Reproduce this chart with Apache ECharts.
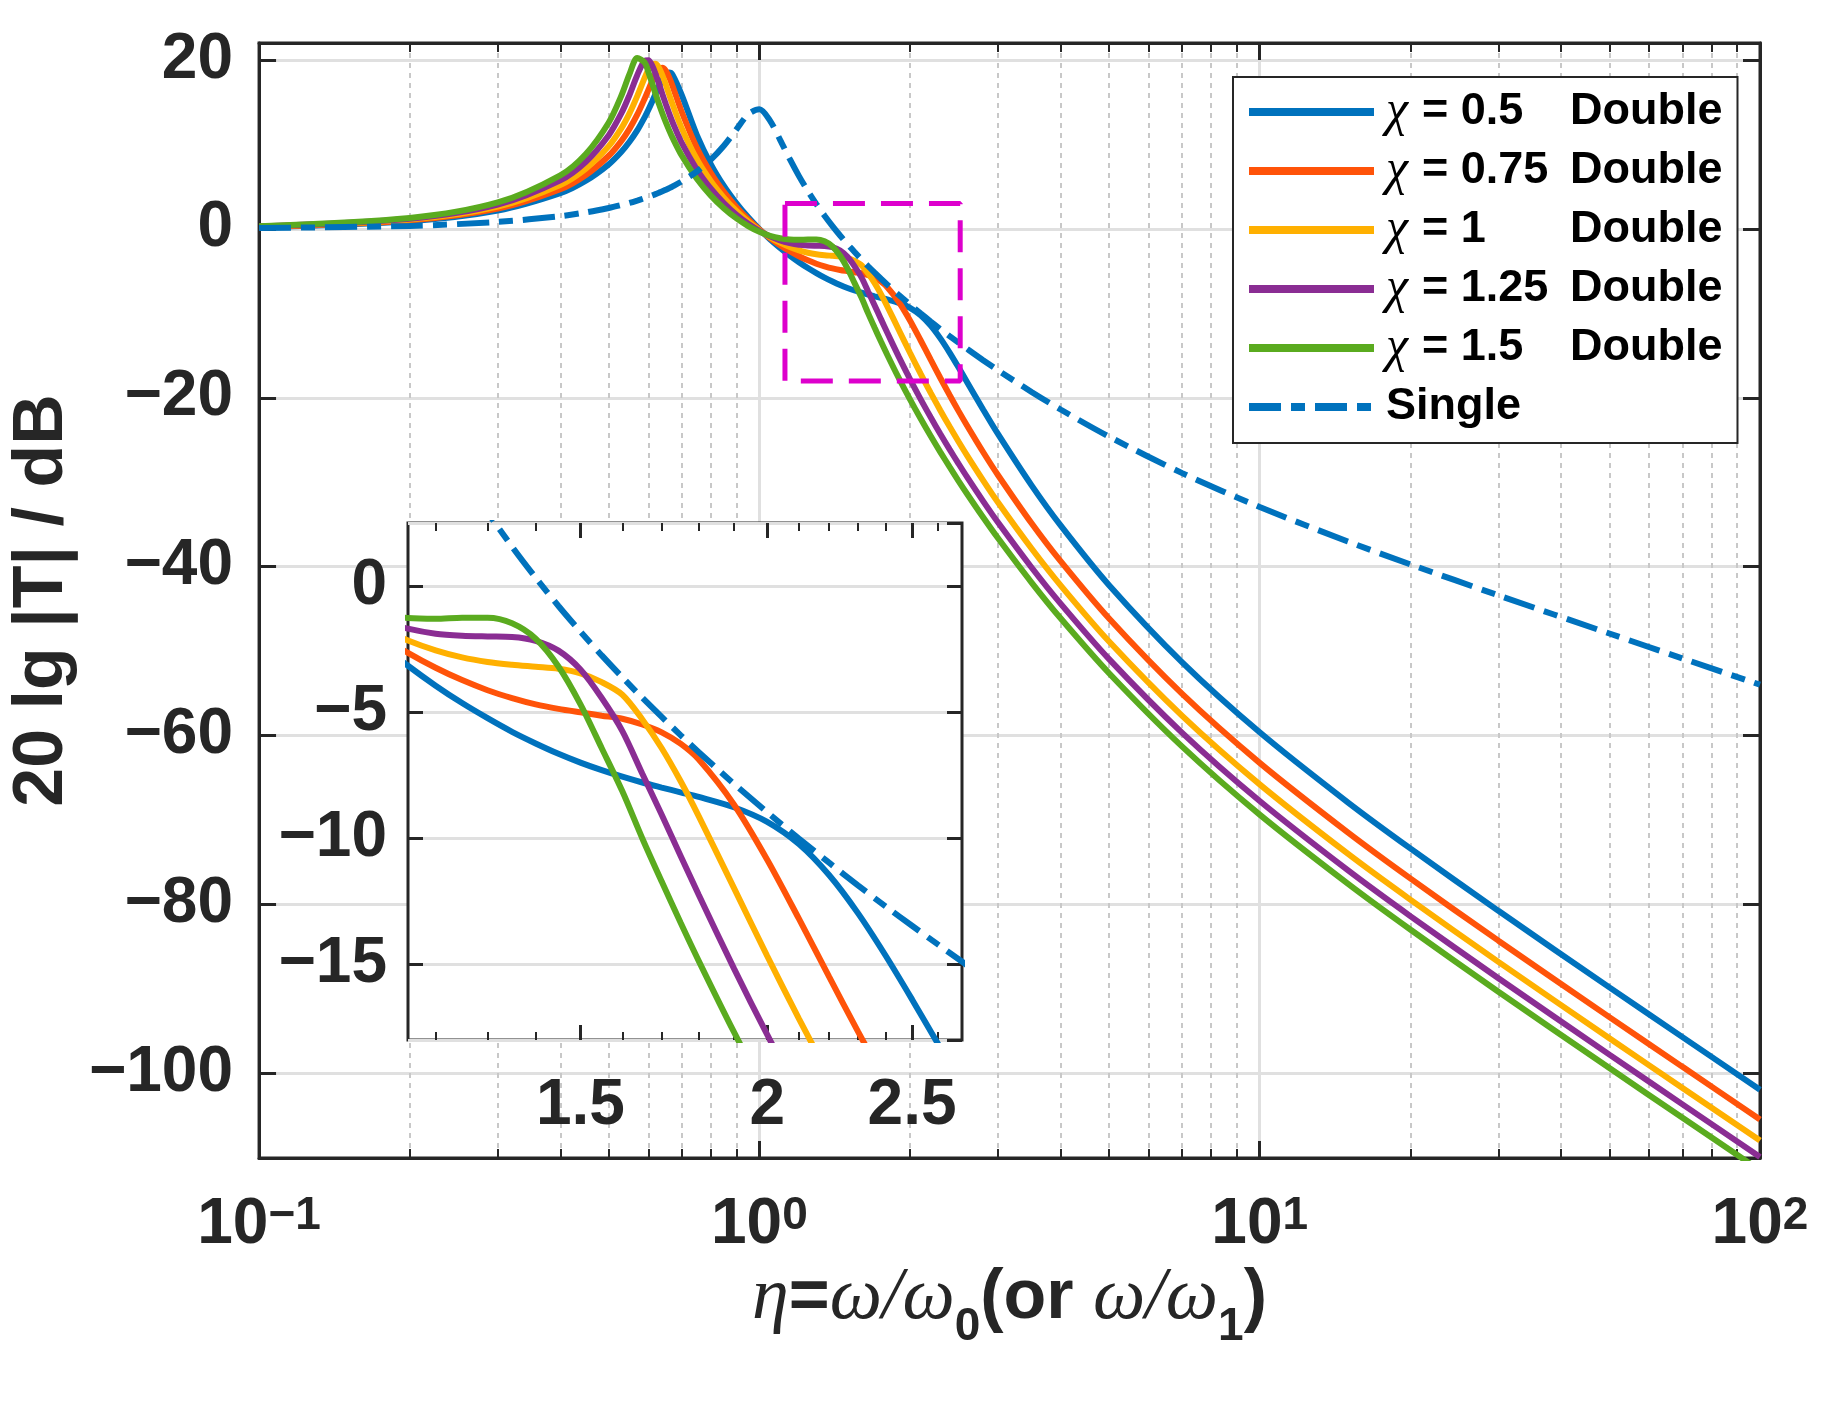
<!DOCTYPE html>
<html>
<head>
<meta charset="utf-8">
<title>20 lg |T| vs eta</title>
<script src="https://cdn.jsdelivr.net/npm/echarts@6/dist/echarts.min.js"></script>
<style>
  html, body { margin: 0; padding: 0; background: #fff; }
  #chart { width: 1846px; height: 1414px; }
</style>
</head>
<body>
<div id="chart"></div>
<script>
// normalised frequency eta = w/w0, shared by every curve
const eta = [0.1, 0.2, 0.3, 0.4, 0.45, 0.5, 0.53, 0.55, 0.57, 0.59, 0.6, 0.61, 0.62, 0.63, 0.64, 0.65, 0.66, 0.67, 0.7, 0.75,
  0.8, 0.85, 0.9, 0.95, 1.0, 1.05, 1.1, 1.15, 1.2, 1.25, 1.3, 1.35, 1.4, 1.45, 1.5, 1.55, 1.6, 1.65, 1.7, 1.75,
  1.8, 1.9, 2.0, 2.1, 2.2, 2.3, 2.4, 2.5, 2.6, 2.8, 3, 3.5, 4, 5, 7, 10, 15, 20, 30, 50, 70, 100];

// 20 lg |T| in dB
const dbChi050 = [0.22, 0.91, 2.16, 4.21, 5.69, 7.63, 9.12, 10.30, 11.65, 13.23, 14.10, 15.02, 15.97, 16.89, 17.71, 18.30, 18.51, 18.28, 15.81, 11.10,
  7.64, 5.05, 3.02, 1.36, -0.04, -1.23, -2.26, -3.16, -3.95, -4.64, -5.24, -5.78, -6.24, -6.65, -7.00, -7.30, -7.56, -7.79, -7.99, -8.18,
  -8.36, -8.77, -9.35, -10.23, -11.46, -12.97, -14.65, -16.39, -18.12, -21.38, -24.31, -30.37, -35.11, -42.19, -51.32, -59.60, -67.89, -73.35, -80.74, -89.80, -95.69, -101.91];
const dbChi075 = [0.24, 1.00, 2.39, 4.69, 6.38, 8.65, 10.42, 11.84, 13.51, 15.43, 16.45, 17.45, 18.33, 18.92, 19.07, 18.72, 17.96, 16.98, 13.80, 9.59,
  6.60, 4.34, 2.56, 1.11, -0.09, -1.09, -1.94, -2.65, -3.24, -3.73, -4.13, -4.44, -4.69, -4.87, -5.01, -5.14, -5.26, -5.49, -5.80, -6.25,
  -6.88, -8.66, -10.85, -13.19, -15.49, -17.66, -19.67, -21.55, -23.28, -26.42, -29.17, -34.86, -39.35, -46.14, -55.06, -63.22, -71.45, -76.90, -84.27, -93.32, -99.21, -105.43];
const dbChi100 = [0.26, 1.09, 2.63, 5.20, 7.13, 9.79, 11.92, 13.67, 15.71, 17.90, 18.84, 19.46, 19.54, 19.06, 18.17, 17.08, 15.92, 14.80, 11.86, 8.23,
  5.63, 3.66, 2.11, 0.86, -0.16, -0.98, -1.64, -2.16, -2.55, -2.83, -3.01, -3.12, -3.20, -3.28, -3.46, -3.81, -4.31, -5.29, -6.43, -7.73,
  -9.13, -11.97, -14.67, -17.15, -19.42, -21.50, -23.41, -25.17, -26.81, -29.77, -32.40, -37.85, -42.21, -48.86, -57.66, -65.77, -73.98, -79.41, -86.78, -95.82, -101.71, -107.93];
const dbChi125 = [0.28, 1.19, 2.87, 5.75, 7.95, 11.09, 13.69, 15.84, 18.19, 19.89, 19.95, 19.37, 18.35, 17.16, 15.94, 14.77, 13.68, 12.68, 10.14, 7.02,
  4.75, 3.02, 1.66, 0.60, -0.24, -0.89, -1.37, -1.69, -1.89, -1.97, -2.00, -2.02, -2.17, -2.56, -3.31, -4.44, -5.75, -7.44, -9.07, -10.69,
  -12.25, -15.16, -17.79, -20.16, -22.31, -24.29, -26.11, -27.79, -29.37, -32.23, -34.77, -40.09, -44.37, -50.94, -59.67, -67.74, -75.93, -81.36, -88.72, -97.76, -103.65, -109.87];
const dbChi150 = [0.31, 1.28, 3.12, 6.33, 8.86, 12.59, 15.78, 18.31, 20.22, 19.68, 18.58, 17.29, 15.99, 14.77, 13.65, 12.62, 11.69, 10.83, 8.65, 5.93,
  3.93, 2.41, 1.23, 0.33, -0.35, -0.82, -1.12, -1.27, -1.30, -1.26, -1.26, -1.48, -2.09, -3.19, -4.69, -6.43, -8.14, -10.01, -11.72, -13.34,
  -14.87, -17.68, -20.19, -22.46, -24.53, -26.43, -28.19, -29.83, -31.36, -34.15, -36.64, -41.88, -46.11, -52.61, -61.30, -69.35, -77.52, -82.95, -90.31, -99.35, -105.24, -111.46];
const dbSingle = [0.09, 0.35, 0.82, 1.50, 1.95, 2.47, 2.82, 3.07, 3.35, 3.64, 3.79, 3.95, 4.11, 4.28, 4.45, 4.63, 4.81, 5.00, 5.62, 6.79,
  8.20, 9.87, 11.78, 13.56, 14.15, 12.81, 10.54, 8.27, 6.24, 4.48, 2.93, 1.56, 0.33, -0.79, -1.81, -2.75, -3.62, -4.43, -5.19, -5.91,
  -6.59, -7.84, -8.97, -10.01, -10.97, -11.87, -12.70, -13.47, -14.20, -15.55, -16.75, -19.31, -21.39, -24.60, -28.92, -32.93, -37.01, -39.72, -43.39, -47.91, -50.86, -53.97];

const chiValues = ['0.5', '0.75', '1', '1.25', '1.5'];
const doubleNames = chiValues.map(c => 'χ = ' + c + ' Double');
const singleName = 'Single';

// magenta dashed box marking the zoomed region
const zoomBoxEta = [1.125, 2.52, 2.52, 1.125, 1.125];
const zoomBoxDb = [3, 3, -18, -18, 3];

// inset tick values
const insetMajorTicks = [1.5, 2, 2.5];
const insetMinorTicks = [1.2, 1.3, 1.4, 1.6, 1.7, 1.8, 1.9, 2.1, 2.2, 2.3, 2.4, 2.6];

const colors = ['#0072bd', '#ff5309', '#ffb000', '#8a2d93', '#5aab1f'];
const singleColor = '#0072bd';
const INK = '#262626';
const SANS = 'Liberation Sans';
const SERIF = 'Liberation Serif';
const LINE_W = 6;

const doubleCurves = [dbChi050, dbChi075, dbChi100, dbChi125, dbChi150];
const pairs = ys => eta.map((x, i) => [x, ys[i]]);

const chart = echarts.init(document.getElementById('chart'));

const minus = v => (v < 0 ? '\u2212' + (-v) : String(v));
const decadeLabel = v => {
  const e = Math.round(Math.log10(v));
  return '{b|10}{s|' + minus(e) + '}';
};

const tickStyle = {color: INK, width: 3};
const gridMajor = {color: '#e0e0e0', width: 3, type: 'solid'};
const gridMinor = {color: '#c8c8c8', width: 2, type: [5, 5]};
const labelFont = {fontFamily: SANS, fontWeight: 'bold', fontSize: 64, color: INK};

function curveSeries(xi, yi, z) {
  const out = doubleCurves.map((ys, i) => ({
    name: doubleNames[i], type: 'line', xAxisIndex: xi, yAxisIndex: yi,
    data: pairs(ys), symbol: 'none', showSymbol: false, smooth: 0.3, z: z,
    lineStyle: {color: colors[i], width: LINE_W}, itemStyle: {color: colors[i]}
  }));
  out.push({
    name: singleName, type: 'line', xAxisIndex: xi, yAxisIndex: yi,
    data: pairs(dbSingle), symbol: 'none', showSymbol: false, smooth: 0.3, z: z,
    lineStyle: {color: singleColor, width: LINE_W, type: [32, 10, 14, 10]}, itemStyle: {color: singleColor}
  });
  return out;
}

function mainSeries() {
  const out = curveSeries(0, 0, 2);
  out.push({
    name: 'zoomBox', type: 'line', xAxisIndex: 0, yAxisIndex: 0, silent: true, z: 3,
    data: zoomBoxEta.map((x, i) => [x, zoomBoxDb[i]]), symbol: 'none',
    lineStyle: {color: '#dd00cc', width: 5, type: [32, 16]}
  });
  return out;
}

function insetSeries() {
  const out = [{
    // grid lines of the inset, drawn through its own axes
    name: 'insetGrid', type: 'line', xAxisIndex: 2, yAxisIndex: 2, data: [], silent: true, z: 11,
    markLine: {
      silent: true, symbol: ['none', 'none'], animation: false, label: {show: false},
      data: insetMinorTicks.map(v => ({xAxis: v, lineStyle: gridMinor}))
        .concat(insetMajorTicks.map(v => ({xAxis: v, lineStyle: gridMajor})))
    }
  }];
  return out.concat(curveSeries(2, 2, 12));
}

const titleRich = {
  i: {fontFamily: SERIF, fontStyle: 'italic', fontWeight: 'normal', fontSize: 74, lineHeight: 70, padding: [0, 0, 32, 0], color: INK},
  b: {fontFamily: SANS, fontWeight: 'bold', fontSize: 70, lineHeight: 70, padding: [0, 0, 32, 0], color: INK},
  s: {fontFamily: SANS, fontWeight: 'bold', fontSize: 46, lineHeight: 46, verticalAlign: 'bottom', color: INK}
};

const logAxisMain = (pos) => ({
  type: 'log', logBase: 10, min: 0.1, max: 100, gridIndex: 0, position: pos,
  axisLine: {show: true, onZero: false, lineStyle: tickStyle},
  axisTick: {show: true, inside: true, length: 17, lineStyle: tickStyle},
  minorTick: {show: true, splitNumber: 9, length: 9, lineStyle: {color: INK, width: 2}},
  splitLine: {show: pos === 'bottom', lineStyle: gridMajor},
  minorSplitLine: {show: pos === 'bottom', lineStyle: gridMinor},
  axisLabel: {show: false}
});

const xMain = logAxisMain('bottom');
xMain.axisLabel = {
  show: true, margin: 35, formatter: decadeLabel,
  rich: {
    b: {fontFamily: SANS, fontWeight: 'bold', fontSize: 64, lineHeight: 64, padding: [20, 0, 0, 0], verticalAlign: 'bottom', color: INK},
    s: {fontFamily: SANS, fontWeight: 'bold', fontSize: 46, lineHeight: 46, verticalAlign: 'top', color: INK}
  }
};
xMain.name = '{i|η}{b|=}{i|ω/ω}{s|0}{b|(or }{i|ω/ω}{s|1}{b|)}';
xMain.nameLocation = 'middle';
xMain.nameGap = 109;
xMain.nameTextStyle = {rich: titleRich};

const xMainTop = logAxisMain('top');

const valueAxis = (grid, pos, min, max, split, extra) => Object.assign({
  type: 'value', gridIndex: grid, position: pos, min: min, max: max, splitNumber: split,
  axisLine: {show: true, onZero: false, lineStyle: tickStyle},
  axisTick: {show: true, inside: true, length: 17, lineStyle: tickStyle},
  splitLine: {show: false},
  axisLabel: {show: false}
}, extra);

const yMain = valueAxis(0, 'left', -110, 22, 6, {
  splitLine: {show: true, lineStyle: gridMajor},
  axisLabel: Object.assign({show: true, margin: 26, formatter: minus, showMinLabel: false, showMaxLabel: false}, labelFont),
  name: '20 lg |T| / dB', nameLocation: 'middle', nameGap: 153,
  nameTextStyle: {fontFamily: SANS, fontWeight: 'bold', fontSize: 70, color: INK}
});
const yMainRight = valueAxis(0, 'right', -110, 22, 6, {});

const insetLog = (pos, ticks, len, withLabel) => ({
  type: 'log', logBase: 10, min: 1.15, max: 2.7, gridIndex: 1, position: pos, z: 11,
  axisLine: {show: false, onZero: false},
  axisTick: {show: true, inside: true, length: len, customValues: ticks, lineStyle: {color: INK, width: len > 10 ? 3 : 2}},
  splitLine: {show: false},
  axisLabel: withLabel
    ? Object.assign({show: true, margin: 34, customValues: ticks, formatter: v => String(v)}, labelFont)
    : {show: false}
});

const yInset = valueAxis(1, 'left', -18, 2.5, 4, {
  z: 11,
  axisLine: {show: false, onZero: false},
  axisTick: {show: true, inside: true, length: 15, lineStyle: tickStyle},
  splitLine: {show: true, lineStyle: gridMajor},
  axisLabel: Object.assign({show: true, margin: 21, formatter: minus, showMinLabel: false, showMaxLabel: false}, labelFont)
});
const yInsetRight = valueAxis(1, 'right', -18, 2.5, 4, {
  z: 11,
  axisLine: {show: false, onZero: false},
  axisTick: {show: true, inside: true, length: 15, lineStyle: tickStyle}
});

const legendRich = {
  c: {fontFamily: SERIF, fontStyle: 'italic', fontWeight: 'normal', fontSize: 50, width: 36, lineHeight: 50, padding: [0, 0, 0, 7], color: '#000'},
  e: {fontFamily: SANS, fontWeight: 'bold', fontSize: 45, width: 148, lineHeight: 50, color: '#000'},
  d: {fontFamily: SANS, fontWeight: 'bold', fontSize: 45, lineHeight: 50, color: '#000'},
  s: {fontFamily: SANS, fontWeight: 'bold', fontSize: 45, lineHeight: 50, padding: [0, 0, 0, 7], color: '#000'}
};

chart.setOption({
  animation: false,
  backgroundColor: '#fff',
  textStyle: {fontFamily: SANS},
  grid: [
    {left: 247, top: 43, width: 1513, height: 1115, show: true, borderColor: INK, borderWidth: 3, z: 0},
    {left: 408, top: 523, width: 554, height: 517, show: true, backgroundColor: '#fff', borderColor: INK, borderWidth: 3, z: 10}
  ],
  xAxis: [
    xMain,
    xMainTop,
    insetLog('bottom', insetMajorTicks, 15, true),
    insetLog('top', insetMajorTicks, 15, false),
    insetLog('bottom', insetMinorTicks, 8, false),
    insetLog('top', insetMinorTicks, 8, false)
  ],
  yAxis: [yMain, yMainRight, yInset, yInsetRight],
  legend: {
    data: doubleNames.concat([singleName]),
    orient: 'vertical', left: 1233, top: 77, padding: [10, 15, 11, 12],
    itemWidth: 125, itemHeight: 20, itemGap: 9,
    itemStyle: {opacity: 0},
    lineStyle: {width: 8},
    backgroundColor: '#fff', borderColor: INK, borderWidth: 2, borderRadius: 0,
    selectedMode: false, z: 20,
    textStyle: {fontFamily: SANS, fontWeight: 'bold', fontSize: 45, lineHeight: 50, color: '#000', rich: legendRich},
    formatter: name => {
      const i = doubleNames.indexOf(name);
      if (i < 0) return '{s|' + name + '}';
      return '{c|χ}{e|= ' + chiValues[i] + '}{d|Double}';
    }
  },
  series: mainSeries().concat(insetSeries())
});
</script>
</body>
</html>
